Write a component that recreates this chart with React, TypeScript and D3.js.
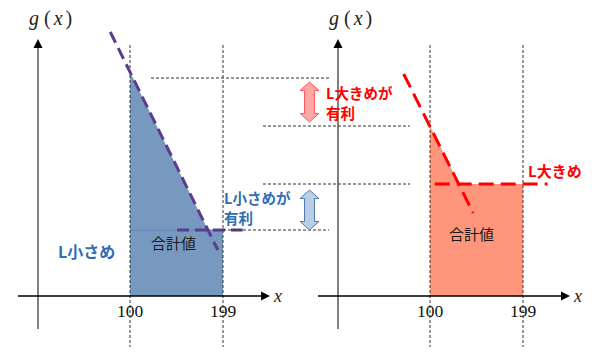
import * as d3 from 'd3'

// x values where the sum is taken
const xTicks = [100, 199]

// "L small" panel: g(x)
const smallFill: [number, number][] = [[100, 224], [183, 66], [199, 66]]
const smallSlope: [number, number][] = [[79, 264], [193.5, 46]]
const smallFlat: [number, number][] = [[150, 66], [220, 66]]

// "L large" panel
const largeFill: [number, number][] = [[100, 170], [131, 112], [199, 112]]
const largeSlope: [number, number][] = [[72, 222], [146, 83]]
const largeFlat: [number, number][] = [[105, 112], [225, 112]]

// horizontal comparison guides (g levels)
const guideLevels = [218, 170, 112, 66]

const W = 600
const H = 360
const JP = '"Noto Sans CJK JP", "Noto Sans", sans-serif'
const SERIF = '"Liberation Serif", "DejaVu Serif", serif'

const y = d3.scaleLinear().domain([0, 250]).range([296, 46])

function blockArrow(cx: number, y1: number, y2: number) {
  const hw = 9.5
  const bw = 5
  const hh = 8.5
  return `M${cx},${y1}L${cx + hw},${y1 + hh}L${cx + bw},${y1 + hh}L${cx + bw},${y2 - hh}L${cx + hw},${y2 - hh}L${cx},${y2}L${cx - hw},${y2 - hh}L${cx - bw},${y2 - hh}L${cx - bw},${y1 + hh}L${cx - hw},${y1 + hh}Z`
}

function Panel({ offset, fill, slope, flat, fillColor, lineColor, dash, seam }: {
  offset: number
  fill: [number, number][]
  slope: [number, number][]
  flat: [number, number][]
  fillColor: string
  lineColor: string
  dash: string
  seam?: boolean
}) {
  const x = d3.scaleLinear().domain([100, 199]).range([130 + offset, 223 + offset])
  const area = d3.area<[number, number]>()
    .x((d) => x(d[0]))
    .y0(y(0))
    .y1((d) => y(d[1]))
  const line = d3.line<[number, number]>()
    .x((d) => x(d[0]))
    .y((d) => y(d[1]))
  const ax = 38 + offset
  const x0 = 18 + offset
  const xTip = 270 + offset
  const y0 = y(0)

  return (
    <g>
      <path d={area(fill) ?? ''} fill={fillColor} />
      {seam && (
        <line x1={x(100)} x2={x(199)} y1={y(flat[0][1])} y2={y(flat[0][1])} stroke="#5f86b6" strokeWidth={1} />
      )}
      {xTicks.map((t) => (
        <g key={t}>
          <line x1={x(t)} x2={x(t)} y1={45} y2={347} stroke="#333" strokeWidth={1} strokeDasharray="3,2" />
          <text x={x(t)} y={317} textAnchor="middle" fontFamily={SERIF} fontSize={17.5} fill="#111">{t}</text>
        </g>
      ))}
      {/* y axis */}
      <line x1={ax} x2={ax} y1={329} y2={47} stroke="#808080" strokeWidth={2} />
      <path d={`M${ax},39L${ax + 4.5},48L${ax - 4.5},48Z`} fill="#000" />
      <text x={ax - 9} y={25} fontFamily={SERIF} fontSize={20} fill="#222">
        <tspan fontStyle="italic">g</tspan>
        <tspan dx={5}>(</tspan>
        <tspan dx={3} fontStyle="italic">x</tspan>
        <tspan dx={3}>)</tspan>
      </text>
      {/* x axis */}
      <line x1={x0} x2={xTip - 7} y1={y0} y2={y0} stroke="#000" strokeWidth={1.5} />
      <path d={`M${xTip},${y0}L${xTip - 9},${y0 - 4.5}L${xTip - 9},${y0 + 4.5}Z`} fill="#000" />
      <text x={xTip + 4} y={y0 + 6} fontFamily={SERIF} fontStyle="italic" fontSize={18} fill="#222">x</text>
      {/* g(x) dashed */}
      <path d={line(slope) ?? ''} fill="none" stroke={lineColor} strokeWidth={3} strokeDasharray={dash} />
      <path d={line(flat) ?? ''} fill="none" stroke={lineColor} strokeWidth={3} strokeDasharray={dash} />
    </g>
  )
}

export default function App() {
  const guideSpans: [number, number][] = [[151, 329], [263, 410], [263, 410], [223, 329]]
  return (
    <svg width={W} height={H} viewBox={`0 0 ${W} ${H}`} style={{ position: 'absolute', left: 0, top: 0, background: '#fff' }}>
      <Panel offset={0} fill={smallFill} slope={smallSlope} flat={smallFlat}
        fillColor="#7799c0" lineColor="#5b3c8f" dash="12,6" seam />
      <Panel offset={300} fill={largeFill} slope={largeSlope} flat={largeFlat}
        fillColor="#ff967b" lineColor="#ff0000" dash="15,7" />

      {guideLevels.map((g, i) => (
        <line key={i} x1={guideSpans[i][0]} x2={guideSpans[i][1]} y1={y(g)} y2={y(g)}
          stroke="#333" strokeWidth={1} strokeDasharray="3,2" />
      ))}

      <path d={blockArrow(309.5, y(guideLevels[0]) + 4, y(guideLevels[1]) - 4)} fill="#ffa6a6" stroke="#ff5a5a" strokeWidth={1} />
      <path d={blockArrow(309.5, y(guideLevels[2]) + 6, y(guideLevels[3]))} fill="#b9cde5" stroke="#4f79b0" strokeWidth={1} />

      <g fontFamily={JP} fontWeight="bold" fontSize={15} dominantBaseline="central">
        <text x={326} y={92} fill="#ff0000" fontSize={14.5}>L大きめが</text>
        <text x={326} y={112} fill="#ff0000" fontSize={14.5}>有利</text>
        <text x={528} y={170} fill="#ff0000">L大きめ</text>
        <text x={224} y={197} fill="#2f6eb5" fontSize={14.5}>L小さめが</text>
        <text x={224} y={217} fill="#2f6eb5" fontSize={14.5}>有利</text>
        <text x={58} y={251} fill="#2f6eb5" fontSize={16}>L小さめ</text>
      </g>
      <g fontFamily={JP} fontSize={15} dominantBaseline="central" fill="#1a1a1a">
        <text x={151} y={242}>合計値</text>
        <text x={449} y={233}>合計値</text>
      </g>
    </svg>
  )
}
